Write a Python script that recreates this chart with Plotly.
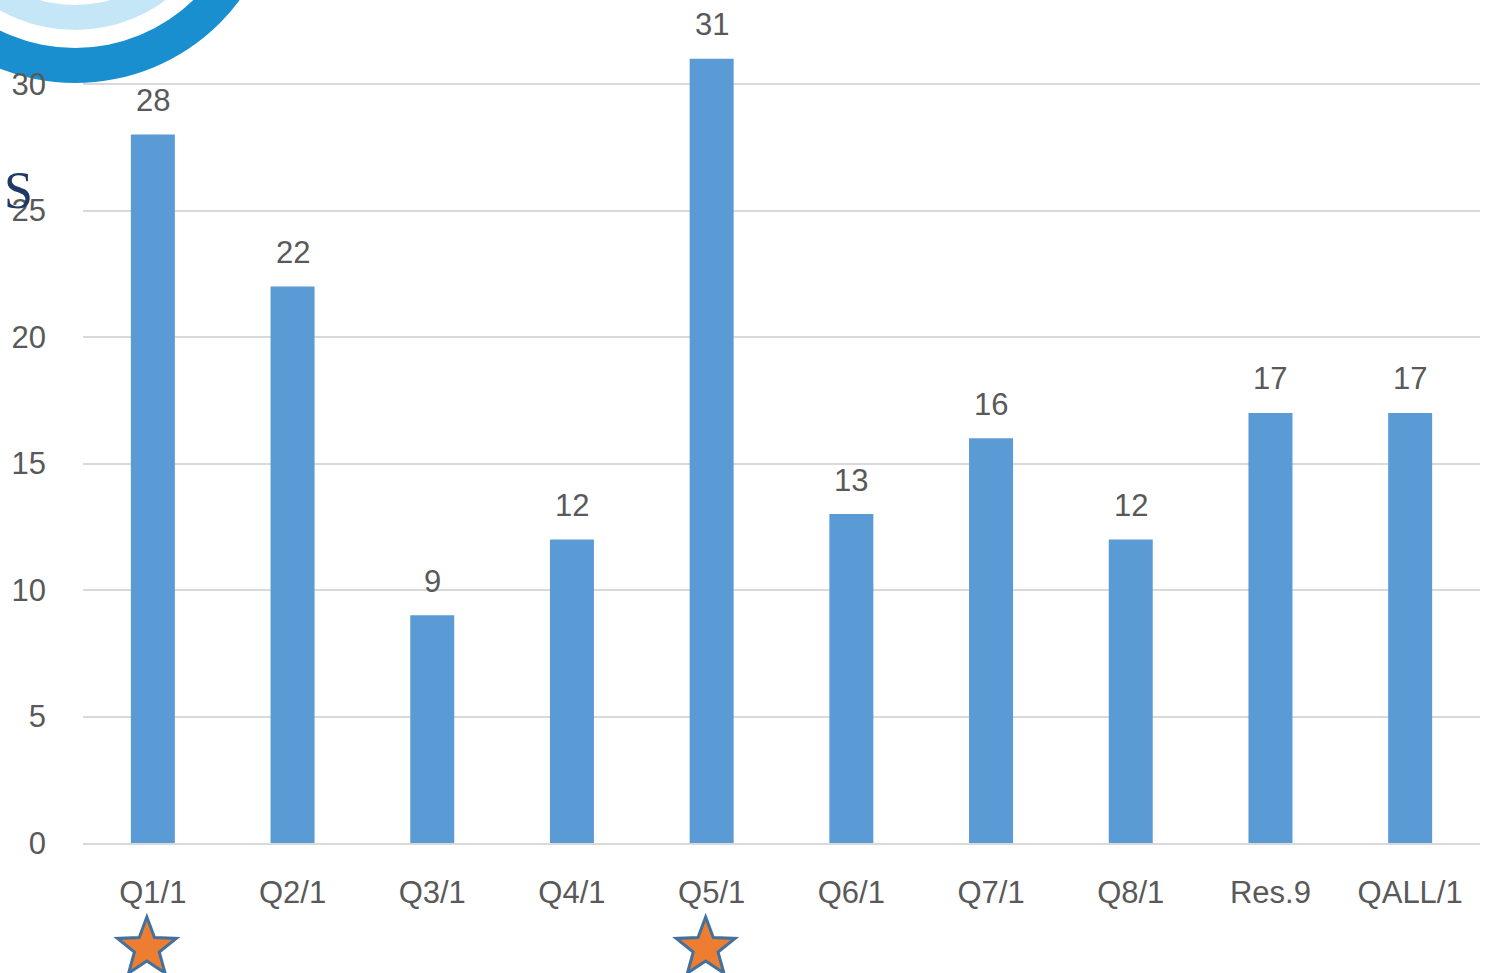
import math
import plotly.graph_objects as go

categories = ["Q1/1", "Q2/1", "Q3/1", "Q4/1", "Q5/1", "Q6/1", "Q7/1", "Q8/1", "Res.9", "QALL/1"]
values = [28, 22, 9, 12, 31, 13, 16, 12, 17, 17]
star_categories = ["Q1/1", "Q5/1"]
y_ticks = [0, 5, 10, 15, 20, 25, 30]

W, H = 1486, 973
L, R, T, B = 83, 6, 0, 130
PW, PH = W - L - R, H - T - B

def px_x(x):
    return (x - L) / PW

def px_y(y):
    return (H - B - y) / PH

fig = go.Figure()
fig.add_trace(go.Bar(
    x=categories, y=values, marker=dict(color="#5B9BD5", line=dict(width=0)),
    width=0.315, hoverinfo="x+y",
))

for c, v in zip(categories, values):
    fig.add_annotation(x=c, y=v, text=str(v), showarrow=False, yshift=34,
                       font=dict(family="Liberation Sans", size=31, color="#595959"))

shapes = []

# decorative rings (top-left)
cx, cy = 75, -122
rings = [(205, "#1A8FD0"), (170, "#FFFFFF"), (152, "#C5E6F7"), (127, "#FFFFFF")]
for r, col in rings:
    shapes.append(dict(type="circle", xref="paper", yref="paper",
                       x0=px_x(cx - r), x1=px_x(cx + r), y0=px_y(cy + r), y1=px_y(cy - r),
                       fillcolor=col, line=dict(width=0), layer="below"))

# star markers below selected categories
n = len(categories)
for c in star_categories:
    idx = categories.index(c)
    sx = L + (idx + 0.5) / n * PW - 6
    sy = 948
    ro, ri = 31, 13
    pts = []
    for k in range(10):
        ang = math.pi / 2 + k * math.pi / 5
        rr = ro if k % 2 == 0 else ri
        pts.append((px_x(sx + rr * math.cos(ang)), px_y(sy - rr * math.sin(ang))))
    path = "M " + " L ".join(f"{a:.5f},{b:.5f}" for a, b in pts) + " Z"
    shapes.append(dict(type="path", xref="paper", yref="paper", path=path,
                       fillcolor="#ED7D31", line=dict(color="#41719C", width=3), layer="above"))

fig.add_annotation(xref="paper", yref="paper", x=px_x(18), y=px_y(190), text="S",
                   showarrow=False, xanchor="center", yanchor="middle",
                   font=dict(family="Liberation Serif", size=52, color="#1F3864"))

fig.update_layout(
    width=W, height=H, autosize=False,
    margin=dict(l=L, r=R, t=T, b=B, pad=0),
    paper_bgcolor="white", plot_bgcolor="rgba(0,0,0,0)",
    showlegend=False, shapes=shapes,
    font=dict(family="Liberation Sans", size=31, color="#595959"),
)
fig.update_yaxes(range=[0, 33.32], tickvals=y_ticks, showgrid=True, gridcolor="#D9D9D9",
                 gridwidth=2, zeroline=False, showline=False, ticks="",
                 ticklabelstandoff=36, tickfont=dict(size=31, color="#595959"))
fig.update_xaxes(range=[-0.5, 9.5], showline=True, linecolor="#D9D9D9", linewidth=2, ticks="",
                 ticklabelstandoff=21, tickfont=dict(size=31, color="#595959"))

fig.write_html("out.html", config={"displayModeBar": False},
               post_script="document.body.style.margin='0';document.body.style.overflow='hidden';")
